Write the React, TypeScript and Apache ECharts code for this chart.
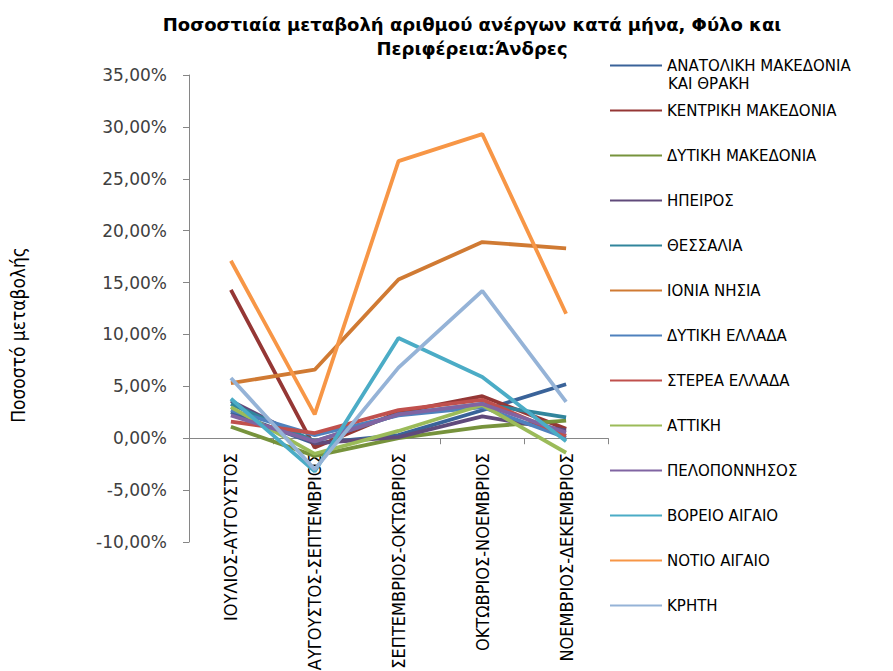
import React, { useEffect, useRef } from "react";
import * as echarts from "echarts";

const categories = [
  "ΙΟΥΛΙΟΣ-ΑΥΓΟΥΣΤΟΣ",
  "ΑΥΓΟΥΣΤΟΣ-ΣΕΠΤΕΜΒΡΙΟΣ",
  "ΣΕΠΤΕΜΒΡΙΟΣ-ΟΚΤΩΒΡΙΟΣ",
  "ΟΚΤΩΒΡΙΟΣ-ΝΟΕΜΒΡΙΟΣ",
  "ΝΟΕΜΒΡΙΟΣ-ΔΕΚΕΜΒΡΙΟΣ",
];

const seriesNames = [
  "ΑΝΑΤΟΛΙΚΗ ΜΑΚΕΔΟΝΙΑ ΚΑΙ ΘΡΑΚΗ",
  "ΚΕΝΤΡΙΚΗ ΜΑΚΕΔΟΝΙΑ",
  "ΔΥΤΙΚΗ ΜΑΚΕΔΟΝΙΑ",
  "ΗΠΕΙΡΟΣ",
  "ΘΕΣΣΑΛΙΑ",
  "ΙΟΝΙΑ ΝΗΣΙΑ",
  "ΔΥΤΙΚΗ ΕΛΛΑΔΑ",
  "ΣΤΕΡΕΑ ΕΛΛΑΔΑ",
  "ΑΤΤΙΚΗ",
  "ΠΕΛΟΠΟΝΝΗΣΟΣ",
  "ΒΟΡΕΙΟ ΑΙΓΑΙΟ",
  "ΝΟΤΙΟ ΑΙΓΑΙΟ",
  "ΚΡΗΤΗ",
];

// values in percent
const anatolikiMakedonia = [2.5, -0.5, 0.3, 2.7, 5.2];
const kentrikiMakedonia = [14.3, -0.9, 2.5, 4.05, 0.9];
const dytikiMakedonia = [1.1, -1.7, 0.0, 1.1, 1.7];
const ipeiros = [3.6, -0.5, 0.1, 2.1, 0.75];
const thessalia = [3.3, -0.3, 2.3, 3.3, 2.0];
const ioniaNisia = [5.3, 6.6, 15.3, 18.9, 18.3];
const dytikiEllada = [2.7, 0.3, 2.2, 3.0, 0.05];
const stereaEllada = [1.6, 0.5, 2.7, 3.7, 0.25];
const attiki = [3.0, -1.5, 0.7, 3.2, -1.4];
const peloponnisos = [2.2, -0.3, 2.3, 3.3, 0.55];
const voreioAigaio = [3.8, -3.2, 9.65, 5.9, -0.3];
const notioAigaio = [17.1, 2.3, 26.7, 29.3, 12.0];
const kriti = [5.8, -3.0, 6.8, 14.2, 3.5];

const seriesValues = [
  anatolikiMakedonia,
  kentrikiMakedonia,
  dytikiMakedonia,
  ipeiros,
  thessalia,
  ioniaNisia,
  dytikiEllada,
  stereaEllada,
  attiki,
  peloponnisos,
  voreioAigaio,
  notioAigaio,
  kriti,
];

const colors = [
  "#3A6399",
  "#953735",
  "#77933C",
  "#604A7B",
  "#31859C",
  "#D07A33",
  "#4F81BD",
  "#C0504D",
  "#9BBB59",
  "#8064A2",
  "#4BACC6",
  "#F79646",
  "#95B3D7",
];

const yTicks = { min: -10, max: 35, interval: 5 };

export default function App() {
  const ref = useRef<HTMLDivElement>(null);

  useEffect(() => {
    if (!ref.current) return;
    const chart = echarts.init(ref.current, null, { renderer: "svg" });
    const narrow = "'Liberation Sans Narrow', 'DejaVu Sans Condensed', 'Arial Narrow', sans-serif";
    const gridTop = 75;
    const gridBottom = 129;
    const plotH = 671 - gridTop - gridBottom;
    const zeroOffset = -((0 - yTicks.min) / (yTicks.max - yTicks.min)) * plotH;
    const option: any = {
      animation: false,
      backgroundColor: "#ffffff",
      color: colors,
      title: {
        text: "Ποσοστιαία μεταβολή αριθμού ανέργων κατά μήνα, Φύλο και\nΠεριφέρεια:Άνδρες",
        left: 467,
        top: 7,
        textAlign: "center",
        textStyle: {
          fontFamily: "'DejaVu Sans', sans-serif",
          fontWeight: "bold",
          fontSize: 18,
          lineHeight: 24,
          color: "#000000",
        },
      },
      legend: {
        orient: "vertical",
        left: 610,
        top: 57,
        padding: 0,
        itemWidth: 52,
        itemHeight: 14,
        itemGap: 28,
        data: seriesNames.map((n) => ({
          name: n,
          icon: "path://M0,0 L52,0 L52,2 L0,2 Z",
        })),
        formatter: (name: string) =>
          name === seriesNames[0] ? "ΑΝΑΤΟΛΙΚΗ ΜΑΚΕΔΟΝΙΑ" : name,
        textStyle: {
          fontFamily: "'DejaVu Sans', sans-serif",
          fontSize: 15,
          lineHeight: 17,
          color: "#000000",
        },
      },
      grid: {
        left: 189,
        right: 285,
        top: gridTop,
        bottom: gridBottom,
        containLabel: false,
        outerBoundsMode: "none",
      },
      xAxis: {
        type: "category",
        data: categories,
        boundaryGap: true,
        offset: zeroOffset,
        axisLine: { onZero: false, lineStyle: { color: "#868686", width: 1 } },
        axisTick: { show: true, length: 6, lineStyle: { color: "#868686" } },
        axisLabel: {
          rotate: 90,
          interval: 0,
          margin: 15,
          fontFamily: narrow,
          fontSize: 18,
          color: "#000000",
        },
        splitLine: { show: false },
      },
      yAxis: {
        type: "value",
        min: yTicks.min,
        max: yTicks.max,
        interval: yTicks.interval,
        axisLine: { show: true, lineStyle: { color: "#868686", width: 1 } },
        axisTick: { show: true, length: 6, lineStyle: { color: "#868686" } },
        splitLine: { show: false },
        axisLabel: {
          margin: 22,
          fontFamily: "'DejaVu Sans', sans-serif",
          fontSize: 17,
          color: "#404040",
          formatter: (v: number) => v.toFixed(2).replace(".", ",") + "%",
        },
      },
      graphic: [
        {
          type: "text",
          left: 668,
          top: 76,
          style: {
            text: "ΚΑΙ ΘΡΑΚΗ",
            fontFamily: "'DejaVu Sans', sans-serif",
            fontSize: 15,
            fill: "#000000",
          },
        },
        {
          type: "text",
          x: 18,
          y: 335,
          rotation: Math.PI / 2,
          style: {
            text: "Ποσοστό μεταβολής",
            fontFamily: narrow,
            fontSize: 19,
            fill: "#000000",
            align: "center",
            verticalAlign: "middle",
          },
        },
      ],
      series: seriesNames.map((name, i) => ({
        name,
        type: "line",
        data: seriesValues[i],
        symbol: "none",
        lineStyle: { width: 3.8, color: colors[i] },
        itemStyle: { color: colors[i] },
      })),
    };
    chart.setOption(option);
    return () => chart.dispose();
  }, []);

  return (
    <div
      ref={ref}
      style={{ position: "fixed", left: 0, top: 0, width: 893, height: 671 }}
    />
  );
}
